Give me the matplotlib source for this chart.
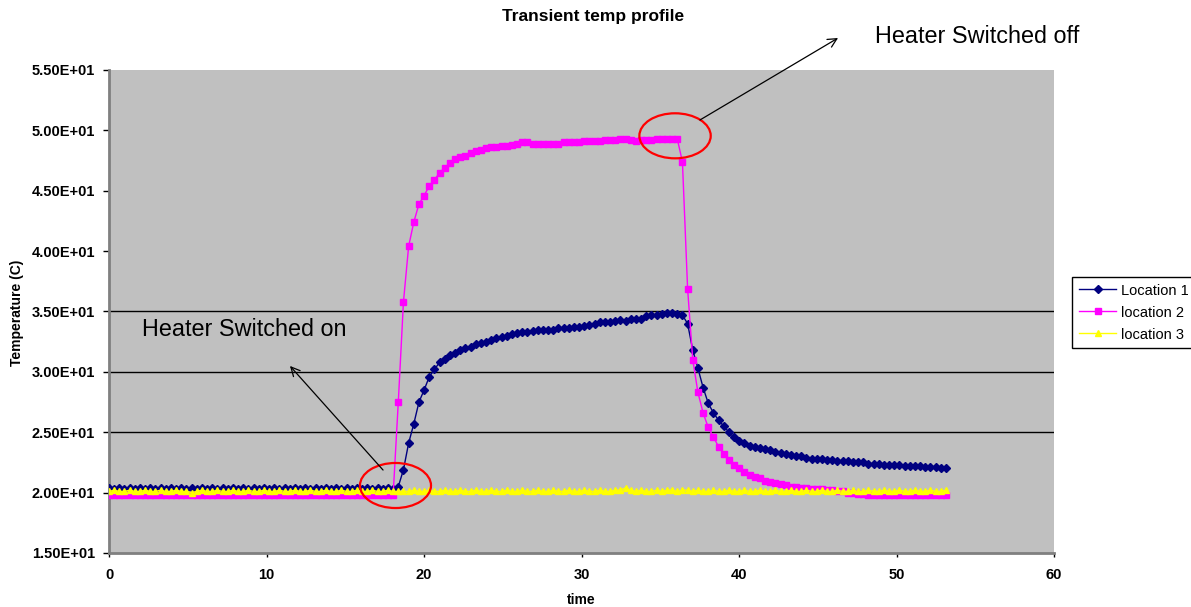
import numpy as np
import matplotlib
matplotlib.use("Agg")
import matplotlib.pyplot as plt
from matplotlib.patches import Ellipse
from matplotlib.ticker import FormatStrFormatter

plt.rcParams['font.family'] = ['Liberation Sans', 'DejaVu Sans']

# Sampling interval of the logged temperatures (time units)
TIME_STEP = 0.328

# Temperature readings (C) at each logged time step
location1 = [
    20.4, 20.3, 20.4, 20.3, 20.4, 20.3, 20.4, 20.3, 20.4, 20.3,
    20.4, 20.3, 20.4, 20.3, 20.4, 20.3, 20.4, 20.3, 20.4, 20.3,
    20.4, 20.3, 20.4, 20.3, 20.4, 20.3, 20.4, 20.3, 20.4, 20.3,
    20.4, 20.3, 20.4, 20.3, 20.4, 20.3, 20.4, 20.3, 20.4, 20.3,
    20.4, 20.3, 20.4, 20.3, 20.4, 20.3, 20.4, 20.3, 20.4, 20.3,
    20.4, 20.3, 20.4, 20.3, 20.4, 20.3,
    20.5, 21.9, 24.1, 25.7, 27.5, 28.5, 29.6, 30.2, 30.8, 31.1,
    31.4, 31.6, 31.8, 32.0, 32.1, 32.3, 32.4, 32.5, 32.6, 32.8,
    32.9, 33.0, 33.1, 33.2, 33.3, 33.3, 33.4, 33.5, 33.5, 33.5,
    33.5, 33.6, 33.6, 33.6, 33.7, 33.7, 33.8, 33.9, 34.0, 34.1,
    34.1, 34.1, 34.2, 34.3, 34.2, 34.4, 34.4, 34.4, 34.6, 34.7,
    34.7, 34.8, 34.9, 34.9, 34.8, 34.7, 34.0, 31.8, 30.3, 28.7,
    27.4, 26.6, 26.0, 25.5, 25.0, 24.6, 24.3, 24.1, 23.9, 23.8,
    23.7, 23.6, 23.5, 23.4, 23.3, 23.2, 23.1, 23.0, 23.0, 22.9,
    22.8, 22.8, 22.8, 22.7, 22.7, 22.6, 22.6, 22.6, 22.5, 22.5,
    22.5, 22.4, 22.4, 22.4, 22.3, 22.3, 22.3, 22.3, 22.2, 22.2,
    22.2, 22.2, 22.1, 22.1, 22.1, 22.0, 22.0,
]

location2 = [
    19.8, 19.8, 19.8, 19.8, 19.8, 19.8, 19.8, 19.8, 19.8, 19.8,
    19.8, 19.8, 19.8, 19.8, 19.8, 19.8, 19.8, 19.8, 19.8, 19.8,
    19.8, 19.8, 19.8, 19.8, 19.8, 19.8, 19.8, 19.8, 19.8, 19.8,
    19.8, 19.8, 19.8, 19.8, 19.8, 19.8, 19.8, 19.8, 19.8, 19.8,
    19.8, 19.8, 19.8, 19.8, 19.8, 19.8, 19.8, 19.8, 19.8, 19.8,
    19.8, 19.8, 19.8, 19.8, 19.8, 19.8,
    27.5, 35.8, 40.4, 42.4, 43.9, 44.6, 45.4, 45.9, 46.5, 46.9,
    47.3, 47.6, 47.8, 47.9, 48.1, 48.3, 48.4, 48.5, 48.6, 48.6,
    48.7, 48.7, 48.8, 48.9, 49.0, 49.0, 48.9, 48.9, 48.9, 48.9,
    48.9, 48.9, 49.0, 49.0, 49.0, 49.0, 49.1, 49.1, 49.1, 49.1,
    49.2, 49.2, 49.2, 49.3, 49.3, 49.2, 49.1, 49.2, 49.2, 49.2,
    49.3, 49.3, 49.3, 49.3, 49.3, 47.4, 36.9, 31.0, 28.3, 26.6,
    25.4, 24.6, 23.8, 23.2, 22.7, 22.3, 22.0, 21.7, 21.5, 21.3,
    21.2, 21.0, 20.9, 20.8, 20.7, 20.6, 20.5, 20.5, 20.4, 20.4,
    20.3, 20.3, 20.3, 20.2, 20.2, 20.1, 20.1, 20.0, 20.0, 19.9,
    19.9, 19.8, 19.8, 19.8, 19.8, 19.8, 19.8, 19.8, 19.8, 19.8,
    19.8, 19.8, 19.8, 19.8, 19.8, 19.8, 19.8,
]

location3 = [
    20.1, 20.2, 20.1, 20.1, 20.2, 20.1, 20.1, 20.2, 20.1, 20.1,
    20.2, 20.1, 20.1, 20.2, 20.1, 20.1, 20.0, 20.1, 20.2, 20.1,
    20.1, 20.2, 20.1, 20.1, 20.2, 20.1, 20.1, 20.2, 20.1, 20.1,
    20.2, 20.1, 20.1, 20.2, 20.1, 20.1, 20.2, 20.1, 20.1, 20.2,
    20.1, 20.1, 20.2, 20.1, 20.1, 20.2, 20.1, 20.1, 20.2, 20.1,
    20.1, 20.2, 20.1, 20.1, 20.2, 20.1,
    20.1, 20.1, 20.1, 20.2, 20.1, 20.1, 20.2, 20.1, 20.1, 20.2,
    20.1, 20.1, 20.2, 20.1, 20.1, 20.2, 20.1, 20.1, 20.2, 20.1,
    20.1, 20.2, 20.1, 20.1, 20.2, 20.1, 20.1, 20.2, 20.1, 20.1,
    20.2, 20.1, 20.1, 20.2, 20.1, 20.1, 20.2, 20.1, 20.1, 20.2,
    20.1, 20.1, 20.2, 20.2, 20.4, 20.2, 20.1, 20.2, 20.1, 20.1,
    20.2, 20.1, 20.2, 20.2, 20.1, 20.2, 20.2, 20.1, 20.2, 20.1,
    20.1, 20.2, 20.1, 20.1, 20.2, 20.1, 20.1, 20.2, 20.1, 20.1,
    20.2, 20.1, 20.1, 20.2, 20.1, 20.1, 20.2, 20.1, 20.1, 20.2,
    20.1, 20.1, 20.2, 20.1, 20.1, 20.2, 20.1, 20.1, 20.2, 20.1,
    20.1, 20.2, 20.1, 20.1, 20.2, 20.1, 20.1, 20.2, 20.1, 20.1,
    20.2, 20.1, 20.1, 20.2, 20.1, 20.1, 20.2,
]

series_labels = ["Location 1", "location 2", "location 3"]
x_ticks = [0, 10, 20, 30, 40, 50, 60]
y_ticks = [15, 20, 25, 30, 35, 40, 45, 50, 55]
grid_levels = [25, 30, 35]

time = np.arange(len(location1)) * TIME_STEP

W, H = 1191, 607
fig = plt.figure(figsize=(W / 100, H / 100), dpi=100)
fig.patch.set_facecolor('white')

ax_left, ax_right, ax_top, ax_bottom = 109, 1054, 70, 553
ax = fig.add_axes([ax_left / W, 1 - ax_bottom / H,
                   (ax_right - ax_left) / W, (ax_bottom - ax_top) / H])
ax.set_facecolor('#C0C0C0')

for lvl in grid_levels:
    ax.axhline(lvl, color='black', lw=1.0, zorder=1)

ax.plot(time, location1, color='#000080', marker='D', ms=4.3, lw=1.0,
        mec='#000080', label=series_labels[0], zorder=3)
ax.plot(time, location2, color='#FF00FF', marker='s', ms=5.0, lw=1.0,
        mec='#FF00FF', label=series_labels[1], zorder=4)
ax.plot(time, location3, color='#FFFF00', marker='^', ms=5.0, lw=1.0,
        mec='#FFFF00', label=series_labels[2], zorder=5)

ax.set_xlim(x_ticks[0], x_ticks[-1])
ax.set_ylim(y_ticks[0], y_ticks[-1])
ax.set_xticks(x_ticks)
ax.set_yticks(y_ticks)
ax.yaxis.set_major_formatter(FormatStrFormatter('%.2E'))

ax.tick_params(axis='y', direction='out', length=4, width=1, color='black',
               labelsize=10.5, pad=6)
ax.tick_params(axis='x', direction='out', length=3, width=1, color='black',
               labelsize=10.5, pad=8)
for lbl in ax.get_xticklabels() + ax.get_yticklabels():
    lbl.set_fontweight('bold')

for side in ('top', 'right'):
    ax.spines[side].set_visible(False)
for side in ('left', 'bottom'):
    ax.spines[side].set_color('#808080')
    ax.spines[side].set_linewidth(2)

# Event markers: heater on / heater off
ax.add_patch(Ellipse((18.19, 20.59), 4.51, 3.73, fill=False,
                     edgecolor='#FF0000', lw=1.6, zorder=6))
ax.add_patch(Ellipse((35.94, 49.55), 4.53, 3.73, fill=False,
                     edgecolor='#FF0000', lw=1.6, zorder=6))

ax.annotate('', xy=(11.49, 30.49), xytext=(17.4, 21.87),
            arrowprops=dict(arrowstyle='->', color='black', lw=0.9,
                            mutation_scale=16, shrinkA=0, shrinkB=0),
            annotation_clip=False, zorder=7)
ax.annotate('', xy=(46.29, 57.65), xytext=(37.52, 50.86),
            arrowprops=dict(arrowstyle='->', color='black', lw=0.9,
                            mutation_scale=16, shrinkA=0, shrinkB=0),
            annotation_clip=False, zorder=7)

ax.text(2.10, 33.47, 'Heater Switched on', fontsize=16.8, ha='left',
        va='center', zorder=7)
ax.text(48.63, 57.8, 'Heater Switched off', fontsize=16.8, ha='left',
        va='center', clip_on=False, zorder=7)

fig.text(593 / W, 1 - 17 / H, 'Transient temp profile', fontsize=12.5,
         fontweight='bold', ha='center', va='center')
fig.text(581 / W, 1 - 600 / H, 'time', fontsize=10, fontweight='bold',
         ha='center', va='center')
fig.text(17 / W, 1 - 313 / H, 'Temperature (C)', fontsize=10,
         fontweight='bold', ha='center', va='center', rotation=90)

leg = fig.legend(loc='upper left', bbox_to_anchor=(1072 / W, 1 - 277 / H),
                 frameon=True, fancybox=False, edgecolor='black',
                 framealpha=1, fontsize=10.5, handlelength=2.6,
                 handletextpad=0.3, labelspacing=0.55, borderpad=0.45,
                 borderaxespad=0)
leg.get_frame().set_linewidth(1.0)

fig.savefig('out.png', dpi=100)
